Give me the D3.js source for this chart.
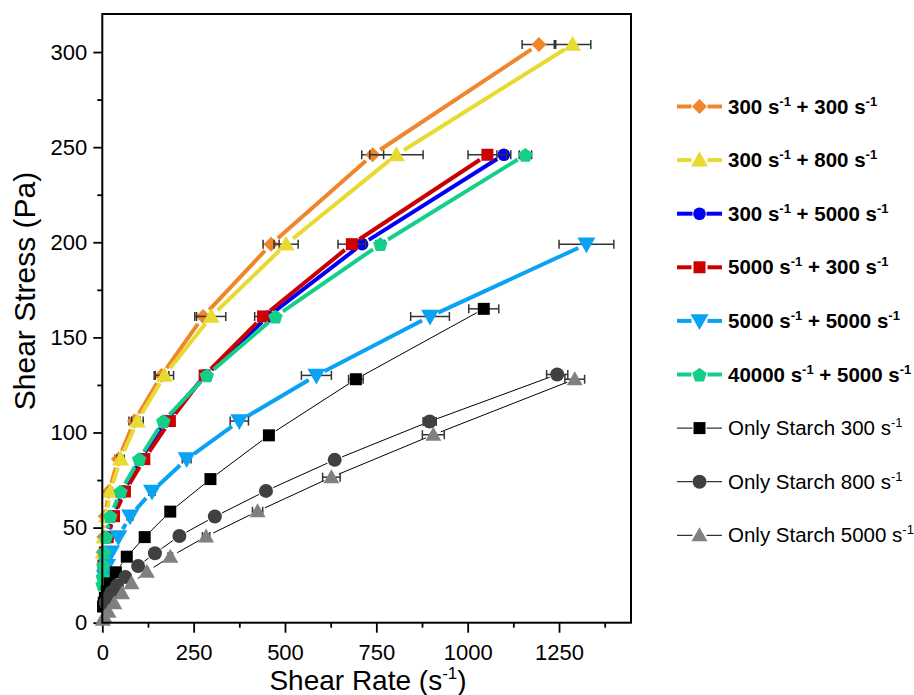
<!DOCTYPE html>
<html>
<head>
<meta charset="utf-8">
<script src="https://cdn.jsdelivr.net/npm/d3@7"></script>
<style>
body { margin: 0; background: #fff; }
text { font-family: Arial, "Liberation Sans", sans-serif; }
</style>
</head>
<body>
<div id="chart-area"></div>
<script>
// legend labels: [text, superscript, text, superscript]
var labels = [
  ["300 s", "-1", " + 300 s", "-1"],
  ["300 s", "-1", " + 800 s", "-1"],
  ["300 s", "-1", " + 5000 s", "-1"],
  ["5000 s", "-1", " + 300 s", "-1"],
  ["5000 s", "-1", " + 5000 s", "-1"],
  ["40000 s", "-1", " + 5000 s", "-1"],
  ["Only Starch 300 s", "-1"],
  ["Only Starch 800 s", "-1"],
  ["Only Starch 5000 s", "-1"]
];

// shear rate (x), shear stress (y), x error
var x300_300 = [1195, 740, 462, 276, 162, 88, 44, 18, 8, 4, 2];
var y300_300 = [304, 246, 199, 161, 130, 106, 86, 69, 56, 45, 37];
var e300_300 = [46, 30, 22, 23, 20, 15, 10, 6, 4, 2, 1];

var x300_800 = [1287, 805, 503, 298, 170, 96, 50, 22, 11, 5, 2.5];
var y300_800 = [304, 246, 199, 161, 130, 106, 86, 69, 56, 45, 37];
var e300_800 = [50, 73, 33, 40, 25, 16, 10, 6, 4, 2, 1];

var x300_5000 = [1099, 711, 453, 283, 172, 105, 58, 28, 14, 7, 3];
var y300_5000 = [246, 199, 161, 130, 106, 86, 69, 56, 45, 37, 30];
var e300_5000 = [19, 10, 8, 8, 6, 5, 4, 3, 2, 1, 1];

var x5000_300 = [1054, 683, 440, 280, 185, 115, 62, 32, 15, 7, 3];
var y5000_300 = [246, 199, 161, 130, 106, 86, 69, 56, 45, 37, 30];
var e5000_300 = [53, 38, 23, 12, 10, 6, 4, 3, 2, 1, 1];

var x5000_5000 = [1325, 897, 586, 375, 231, 136, 76, 44, 24, 13, 7];
var y5000_5000 = [199, 161, 130, 106, 86, 69, 56, 45, 37, 30, 24];
var e5000_5000 = [75, 53, 41, 25, 12, 8, 8, 5, 3, 2, 1];

var x40000_5000 = [1158, 761, 474, 286, 167, 101, 50, 22, 10, 5, 3, 1.5, 1];
var y40000_5000 = [246, 199, 161, 130, 106, 86, 69, 56, 45, 37, 30, 24, 20];
var e40000_5000 = [17, 12, 8, 8, 6, 5, 4, 3, 2, 1, 1, 0, 0];

var xStarch300 = [1044, 694, 456, 296, 186, 116, 67, 37, 20, 12, 7, 4, 2];
var yStarch300 = [165, 128, 98.5, 75.5, 58.4, 45, 34.7, 26.5, 20.7, 16.5, 13, 10.5, 8.5];
var eStarch300 = [41, 20, 10, 8, 5, 3, 2, 1, 1, 1, 0, 0, 0];

var xStarch800 = [1245, 896, 636, 448, 308, 211, 144, 98, 63, 40, 25, 15, 9];
var yStarch800 = [130.5, 105.8, 85.6, 69.3, 55.8, 45.6, 36.5, 29.8, 24, 19.5, 16, 13, 10.5];
var eStarch800 = [29, 18, 12, 8, 6, 4, 3, 2, 2, 1, 1, 0, 0];

var xStarch5000 = [1293, 906, 627, 425, 284, 186, 122, 80, 54, 33, 17, 5.5, 1.5];
var yStarch5000 = [128, 98.8, 76.5, 58.6, 45.3, 34.7, 26.8, 20.7, 15.5, 10.2, 5.8, 3.2, 1.5];
var eStarch5000 = [27, 30, 24, 14, 10, 6, 4, 3, 2, 1, 1, 0, 0];

var xTicks = [0, 250, 500, 750, 1000, 1250];
var xMinor = [125, 375, 625, 875, 1125, 1375];
var yTicks = [0, 50, 100, 150, 200, 250, 300];
var yMinor = [25, 75, 125, 175, 225, 275];

var series = [
  {x: x300_300, y: y300_300, e: e300_300, color: "#F0862C", sym: "diamond", r: 7.5, w: 4, gap: 9},
  {x: x300_800, y: y300_800, e: e300_800, color: "#E8DA30", sym: "triangle", r: 8.5, w: 4, gap: 9},
  {x: x300_5000, y: y300_5000, e: e300_5000, color: "#0000F5", sym: "circle", r: 6.3, w: 4, gap: 8},
  {x: x5000_300, y: y5000_300, e: e5000_300, color: "#CC0000", sym: "square", r: 6, w: 4, gap: 9},
  {x: x5000_5000, y: y5000_5000, e: e5000_5000, color: "#0AA2F2", sym: "triangleDown", r: 9, w: 4, gap: 9},
  {x: x40000_5000, y: y40000_5000, e: e40000_5000, color: "#14CF88", sym: "pentagon", r: 7.6, w: 4, gap: 9},
  {x: xStarch300, y: yStarch300, e: eStarch300, color: "#000000", sym: "square", r: 6, w: 1, gap: 8},
  {x: xStarch800, y: yStarch800, e: eStarch800, color: "#404040", sym: "circle", r: 7, w: 1, gap: 8},
  {x: xStarch5000, y: yStarch5000, e: eStarch5000, color: "#808080", sym: "triangle", r: 8, w: 1, gap: 8}
];

var svg = d3.select("#chart-area").append("svg")
  .attr("width", 914)
  .attr("height", 695);

var x = d3.scaleLinear().domain([0, 1447]).range([102.3, 631]);
var y = d3.scaleLinear().domain([0, 320]).range([622.7, 14]);

function marker(sym, r) {
  var pts = [];
  if (sym == "circle") {
    return "M" + (-r) + ",0A" + r + "," + r + " 0 1,0 " + r + ",0A" + r + "," + r + " 0 1,0 " + (-r) + ",0Z";
  }
  if (sym == "square") pts = [[-r, -r], [r, -r], [r, r], [-r, r]];
  if (sym == "diamond") pts = [[0, -r], [r, 0], [0, r], [-r, 0]];
  if (sym == "triangle") pts = [[0, -r], [r, r * 0.75], [-r, r * 0.75]];
  if (sym == "triangleDown") pts = [[0, r], [r, -r * 0.75], [-r, -r * 0.75]];
  if (sym == "pentagon") {
    for (var k = 0; k < 5; k++) {
      var a = -Math.PI / 2 + k * 2 * Math.PI / 5;
      pts.push([r * Math.cos(a), r * Math.sin(a) + 0.8]);
    }
  }
  return "M" + pts.map(function(p) { return p[0].toFixed(2) + "," + p[1].toFixed(2); }).join("L") + "Z";
}

// line segments with a gap around each symbol, like Origin
function gapped(pts, gap) {
  var segs = [];
  for (var i = 0; i < pts.length - 1; i++) {
    var a = pts[i], b = pts[i + 1];
    var dx = b[0] - a[0], dy = b[1] - a[1];
    var len = Math.sqrt(dx * dx + dy * dy);
    if (len <= 2 * gap + 1) continue;
    var ux = dx / len, uy = dy / len;
    segs.push([a[0] + ux * gap, a[1] + uy * gap, b[0] - ux * gap, b[1] - uy * gap]);
  }
  return segs;
}

// axes
var xMajor = svg.append("g").attr("transform", "translate(0,622.7)")
  .call(d3.axisBottom(x).tickValues(xTicks).tickSize(10).tickPadding(12).tickFormat(d3.format("d")));
var xMin = svg.append("g").attr("transform", "translate(0,622.7)")
  .call(d3.axisBottom(x).tickValues(xMinor).tickSize(5).tickFormat(""));
var yMajor = svg.append("g").attr("transform", "translate(102.3,0)")
  .call(d3.axisLeft(y).tickValues(yTicks).tickSize(9).tickPadding(6).tickFormat(d3.format("d")));
var yMin = svg.append("g").attr("transform", "translate(102.3,0)")
  .call(d3.axisLeft(y).tickValues(yMinor).tickSize(5).tickFormat(""));

[xMajor, xMin, yMajor, yMin].forEach(function(g) {
  g.select(".domain").remove();
  g.selectAll(".tick line").attr("stroke", "#000").attr("stroke-width", 1.8);
  g.selectAll(".tick text").attr("font-size", 22).attr("fill", "#000")
    .attr("font-family", "Arial, 'Liberation Sans', sans-serif");
});

// data
var plot = svg.append("g");
series.forEach(function(s) {
  var pts = s.x.map(function(v, i) { return [x(v), y(s.y[i])]; });
  var g = plot.append("g");
  g.selectAll("line.seg").data(gapped(pts, s.gap)).enter().append("line")
    .attr("x1", function(d) { return d[0]; })
    .attr("y1", function(d) { return d[1]; })
    .attr("x2", function(d) { return d[2]; })
    .attr("y2", function(d) { return d[3]; })
    .attr("stroke", s.w > 1 ? s.color : "#000")
    .attr("stroke-width", s.w);

  var errs = s.x.map(function(v, i) { return {x: v, y: s.y[i], e: s.e[i]}; })
    .filter(function(d) { return d.e > 0; });
  var eg = g.selectAll("g.err").data(errs).enter().append("g")
    .attr("stroke", "#333").attr("stroke-width", 1.5);
  eg.append("line")
    .attr("x1", function(d) { return x(d.x - d.e); })
    .attr("x2", function(d) { return x(d.x + d.e); })
    .attr("y1", function(d) { return y(d.y); })
    .attr("y2", function(d) { return y(d.y); });
  eg.append("line")
    .attr("x1", function(d) { return x(d.x - d.e); })
    .attr("x2", function(d) { return x(d.x - d.e); })
    .attr("y1", function(d) { return y(d.y) - 4.5; })
    .attr("y2", function(d) { return y(d.y) + 4.5; });
  eg.append("line")
    .attr("x1", function(d) { return x(d.x + d.e); })
    .attr("x2", function(d) { return x(d.x + d.e); })
    .attr("y1", function(d) { return y(d.y) - 4.5; })
    .attr("y2", function(d) { return y(d.y) + 4.5; });

  g.selectAll("path.mk").data(pts).enter().append("path")
    .attr("d", marker(s.sym, s.r))
    .attr("transform", function(d) { return "translate(" + d[0] + "," + d[1] + ")"; })
    .attr("fill", s.color);
});

// frame
svg.append("rect")
  .attr("x", 102.3).attr("y", 14)
  .attr("width", 631 - 102.3).attr("height", 622.7 - 14)
  .attr("fill", "none").attr("stroke", "#000").attr("stroke-width", 2);

// axis titles
var xt = svg.append("text").attr("x", 368).attr("y", 690)
  .attr("text-anchor", "middle").attr("font-size", 28);
xt.append("tspan").text("Shear Rate (s");
xt.append("tspan").attr("dy", -11).attr("font-size", 17).text("-1");
xt.append("tspan").attr("dy", 11).text(")");

svg.append("text")
  .attr("transform", "translate(35,291) rotate(-90)")
  .attr("text-anchor", "middle").attr("font-size", 30)
  .text("Shear Stress (Pa)");

// legend
var legend = svg.append("g");
series.forEach(function(s, i) {
  var ly = 106.5 + i * 53.6;
  var g = legend.append("g");
  var lc = s.w > 1 ? s.color : "#000";
  g.append("line").attr("x1", 677).attr("x2", 699.5 - s.gap + 1).attr("y1", ly).attr("y2", ly)
    .attr("stroke", lc).attr("stroke-width", s.w);
  g.append("line").attr("x1", 699.5 + s.gap - 1).attr("x2", 722).attr("y1", ly).attr("y2", ly)
    .attr("stroke", lc).attr("stroke-width", s.w);
  g.append("path").attr("d", marker(s.sym, s.r))
    .attr("transform", "translate(699.5," + ly + ")")
    .attr("fill", s.color);
  var t = g.append("text").attr("x", 728).attr("y", ly + 7)
    .attr("font-size", 20.5).attr("font-weight", i < 6 ? "bold" : "normal");
  labels[i].forEach(function(part, k) {
    var sp = t.append("tspan").text(part);
    if (k % 2 == 1) sp.attr("dy", -8).attr("font-size", 13);
    else if (k > 0) sp.attr("dy", 8);
  });
});
</script>
</body>
</html>
